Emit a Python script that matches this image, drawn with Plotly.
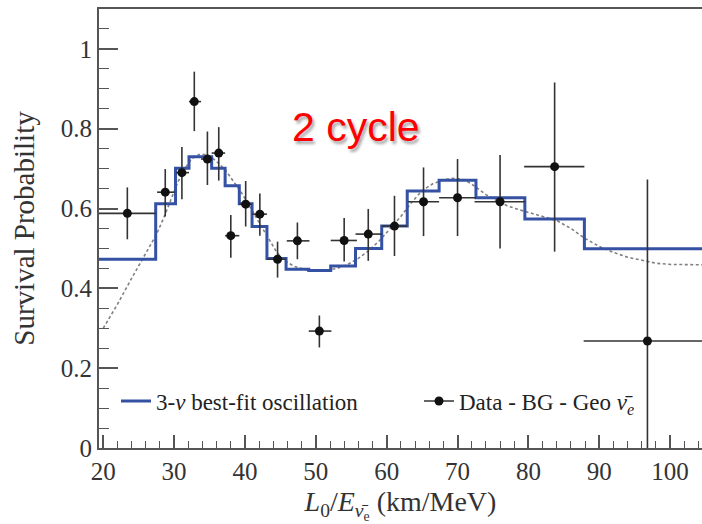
import plotly.graph_objects as go

# Histogram (3-nu best fit) bin edges and levels
fit_edges = [19.4, 27.4, 30.2, 32.1, 35.3, 37.2, 39.2, 41.0, 43.1, 45.8, 49.0, 52.1,
             55.6, 59.3, 62.9, 67.4, 72.6, 79.5, 87.9, 106.0]
fit_vals = [0.473, 0.612, 0.701, 0.730, 0.701, 0.657, 0.612, 0.555, 0.475, 0.448,
            0.445, 0.456, 0.500, 0.556, 0.644, 0.671, 0.627, 0.574, 0.499]

# Smooth (unbinned) expectation, dashed gray
curve_x = [20, 22, 24, 26, 27.5, 28.5, 29.5, 30.5, 31.5, 32.5, 33.5, 34.5, 35.5, 36.5,
           37.5, 38.5, 39.5, 40.5, 41.5, 42.5, 43.5, 44.5, 45.5, 47, 48.5, 50, 51.5,
           53, 54.5, 56, 57.5, 59, 60.5, 62, 63.5, 65, 66.5, 68, 69.5, 71, 72.5, 74,
           75.5, 77, 78.5, 80, 82, 84, 86, 88, 90, 92, 94, 96, 98, 100, 102, 105]
curve_y = [0.300, 0.360, 0.425, 0.490, 0.535, 0.575, 0.620, 0.665, 0.700, 0.725, 0.735,
           0.735, 0.725, 0.710, 0.690, 0.665, 0.640, 0.610, 0.580, 0.550, 0.520, 0.490,
           0.470, 0.455, 0.447, 0.443, 0.445, 0.450, 0.460, 0.475, 0.495, 0.520, 0.550,
           0.580, 0.615, 0.645, 0.662, 0.672, 0.676, 0.672, 0.655, 0.635, 0.620, 0.607,
           0.598, 0.590, 0.580, 0.570, 0.550, 0.525, 0.505, 0.490, 0.478, 0.470, 0.463,
           0.460, 0.459, 0.459]

# Data - BG - Geo points
data_x = [23.4, 28.75, 31.1, 32.85, 34.7, 36.3, 38.0, 40.1, 42.1, 44.6, 47.4, 50.5,
          54.0, 57.4, 61.1, 65.2, 70.0, 76.0, 83.7, 96.8]
data_y = [0.588, 0.641, 0.690, 0.868, 0.724, 0.739, 0.532, 0.611, 0.586, 0.473, 0.519,
          0.293, 0.520, 0.536, 0.556, 0.617, 0.627, 0.617, 0.705, 0.268]
err_up = [0.065, 0.058, 0.064, 0.075, 0.069, 0.065, 0.052, 0.058, 0.052, 0.044, 0.046,
          0.039, 0.056, 0.063, 0.076, 0.086, 0.097, 0.117, 0.211, 0.405]
err_dn = [0.065, 0.061, 0.067, 0.074, 0.065, 0.069, 0.055, 0.056, 0.054, 0.046, 0.046,
          0.041, 0.053, 0.067, 0.075, 0.086, 0.096, 0.117, 0.213, 0.300]
bin_lo = [19.0, 27.6, 30.3, 32.1, 33.8, 35.3, 37.2, 39.2, 41.0, 43.1, 45.9, 49.0,
          52.1, 55.6, 59.3, 63.0, 67.4, 72.4, 79.4, 87.8]
bin_hi = [27.4, 30.1, 32.1, 33.8, 35.3, 37.2, 39.2, 41.0, 43.1, 45.8, 49.1, 52.2,
          55.8, 59.3, 62.9, 67.4, 72.6, 79.5, 87.9, 106.0]

x_ticks = [20, 30, 40, 50, 60, 70, 80, 90, 100]
y_ticks = [0, 0.2, 0.4, 0.6, 0.8, 1]
y_tick_text = ["0", "0.2", "0.4", "0.6", "0.8", "1"]

ex_plus = [h - x for h, x in zip(bin_hi, data_x)]
ex_minus = [x - l for l, x in zip(bin_lo, data_x)]

SERIF = "Liberation Serif"
AX = "#555555"
TXT = "#333333"

fig = go.Figure()

fig.add_trace(go.Scatter(
    x=curve_x, y=curve_y, mode="lines", showlegend=False, hoverinfo="skip",
    line=dict(color="#808080", width=1.6, dash="3px,2.5px")))

fig.add_trace(go.Scatter(
    x=fit_edges, y=fit_vals + [fit_vals[-1]], mode="lines", line_shape="hv",
    name="3-<i>ν</i> best-fit oscillation", legend="legend",
    line=dict(color="#3451a3", width=3)))

fig.add_trace(go.Scatter(
    x=data_x, y=data_y, mode="markers", showlegend=False,
    marker=dict(color="#111111", size=9),
    error_y=dict(type="data", symmetric=False, array=err_up, arrayminus=err_dn,
                 color="#333333", thickness=1.6, width=0),
    error_x=dict(type="data", symmetric=False, array=ex_plus, arrayminus=ex_minus,
                 color="#333333", thickness=1.6, width=0)))

# legend entry for the data (line + marker symbol)
fig.add_trace(go.Scatter(
    x=[None], y=[None], mode="lines+markers", legend="legend2",
    name="Data - BG - Geo <i>ν̄<sub>e</sub></i>",
    line=dict(color="#333333", width=1.6), marker=dict(color="#111111", size=9)))

fig.add_annotation(
    x=(356 - 99) / 603, y=(448 - 127) / 439, xref="paper", yref="paper",
    xanchor="center", yanchor="middle", text="2 cycle", showarrow=False,
    font=dict(family="Liberation Sans", size=41, color="#ff0000",
              shadow="2px 3px 3px rgba(0,0,0,0.35)"))

leg_common = dict(orientation="h", yanchor="middle", xanchor="left",
                  bgcolor="rgba(0,0,0,0)",
                  font=dict(family=SERIF, size=23, color="#222222"))

fig.update_layout(
    width=702, height=524,
    margin=dict(l=99, r=0, t=9, b=76),
    paper_bgcolor="white", plot_bgcolor="white",
    font=dict(family=SERIF, color=TXT),
    legend=dict(x=(116 - 99) / 603, y=(448 - 401) / 439, **leg_common),
    legend2=dict(x=(419 - 99) / 603, y=(448 - 401) / 439, **leg_common),
    xaxis=dict(
        range=[19.4, 104.5], tickvals=x_ticks, ticks="inside", ticklen=13,
        tickwidth=1.5, tickcolor=AX, showline=True, linecolor=AX, linewidth=2,
        mirror=True, showgrid=False, zeroline=False,
        tickfont=dict(family=SERIF, size=25, color=TXT),
        minor=dict(dtick=2, tick0=20, ticks="inside", ticklen=7, tickwidth=1.2,
                   tickcolor=AX, showgrid=False),
        title=dict(text="<i>L</i><sub>0</sub>/<i>E</i><sub><i>ν̄</i><sub>e</sub></sub> (km/MeV)",
                   font=dict(family=SERIF, size=28, color=TXT), standoff=14)),
    yaxis=dict(
        range=[0, 1.1], tickvals=y_ticks, ticktext=y_tick_text, ticks="inside",
        ticklen=19, tickwidth=1.5, tickcolor=AX, showline=True, linecolor=AX,
        linewidth=2, showgrid=False, zeroline=False,
        tickfont=dict(family=SERIF, size=25, color=TXT),
        minor=dict(dtick=0.05, tick0=0, ticks="inside", ticklen=10, tickwidth=1.2,
                   tickcolor=AX, showgrid=False),
        title=dict(text="Survival Probability",
                   font=dict(family=SERIF, size=29, color=TXT), standoff=18)),
)

fig.write_html("out.html")
